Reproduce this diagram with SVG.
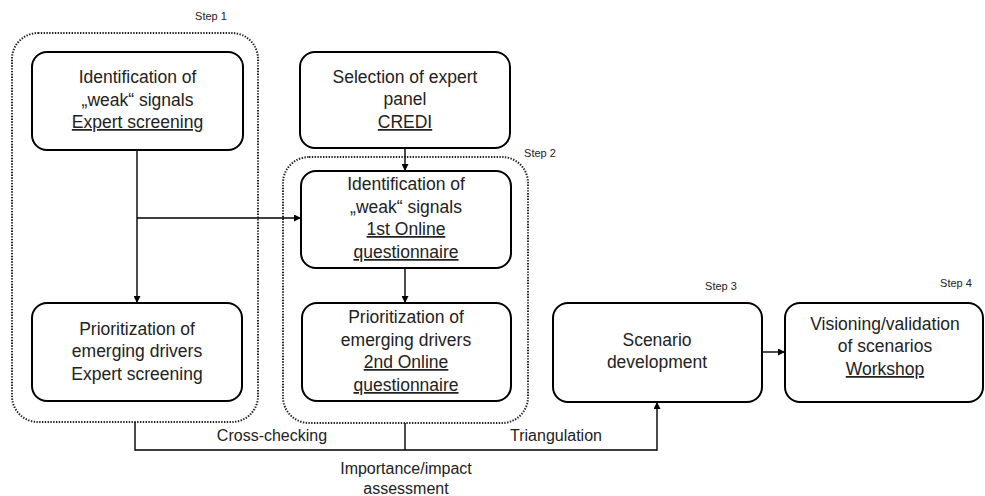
<svg xmlns="http://www.w3.org/2000/svg" width="985" height="496" viewBox="0 0 985 496">
<style>
.box{fill:#fff;stroke:#000;stroke-width:2}
.grp{fill:none;stroke:#222;stroke-width:2;stroke-dasharray:1.4 1.4}
.t{font-family:"Liberation Sans",Arial,sans-serif;font-size:17.5px;fill:#222;text-anchor:middle}
.s{font-family:"Liberation Sans",Arial,sans-serif;font-size:11px;fill:#222;text-anchor:middle}
.l{font-family:"Liberation Sans",Arial,sans-serif;font-size:16px;fill:#222;text-anchor:middle}
.u{text-decoration:underline}
.c{fill:none;stroke:#000;stroke-width:1.4}
</style>
<defs>
<marker id="ah" viewBox="0 0 10 10" refX="10" refY="5" markerWidth="7" markerHeight="7" markerUnits="userSpaceOnUse" orient="auto">
<path d="M0,0 L10,5 L0,10 z" fill="#000"/>
</marker>
</defs>
<rect fill="#fff" width="985" height="496"/>
<g id="groups">
<rect class="grp" x="12" y="33" width="246" height="389" rx="26"/>
<rect class="grp" x="283" y="157" width="245" height="266" rx="26"/>
</g>
<g id="steps">
<text class="s" x="211" y="20">Step 1</text>
<text class="s" x="540" y="157">Step 2</text>
<text class="s" x="721" y="290">Step 3</text>
<text class="s" x="956" y="287">Step 4</text>
</g>
<g id="connectors">
<path class="c" d="M137,150 V303" marker-end="url(#ah)"/>
<path class="c" d="M137,218 H301" marker-end="url(#ah)"/>
<path class="c" d="M405,148 V171" marker-end="url(#ah)"/>
<path class="c" d="M405,268 V303" marker-end="url(#ah)"/>
<path class="c" d="M762,352 H785" marker-end="url(#ah)"/>
<path class="c" d="M135,422 V450 H657 V402" marker-end="url(#ah)"/>
<path class="c" d="M405,423 V450"/>
<text class="l" x="272" y="441">Cross-checking</text>
<text class="l" x="556" y="441">Triangulation</text>
<text class="l" x="406" y="474">Importance/impact</text>
<text class="l" x="406" y="494">assessment</text>
</g>
<g id="n1">
<rect class="box" x="32" y="52" width="211" height="98" rx="15"/>
<text class="t" x="137.5" y="83">Identification of</text>
<text class="t" x="137.5" y="106">„weak“ signals</text>
<text class="t u" x="137.5" y="128">Expert screening</text>
</g>
<g id="n2">
<rect class="box" x="32" y="303" width="210" height="98" rx="15"/>
<text class="t" x="137" y="335">Prioritization of</text>
<text class="t" x="137" y="357">emerging drivers</text>
<text class="t" x="137" y="380">Expert screening</text>
</g>
<g id="n3">
<rect class="box" x="300" y="52" width="210" height="96" rx="15"/>
<text class="t" x="405" y="83">Selection of expert</text>
<text class="t" x="405" y="105">panel</text>
<text class="t u" x="405" y="128">CREDI</text>
</g>
<g id="n4">
<rect class="box" x="301" y="171" width="210" height="97" rx="15"/>
<text class="t" x="406" y="190">Identification of</text>
<text class="t" x="406" y="213">„weak“ signals</text>
<text class="t u" x="406" y="235">1st Online</text>
<text class="t u" x="406" y="258">questionnaire</text>
</g>
<g id="n5">
<rect class="box" x="302" y="303" width="209" height="98" rx="15"/>
<text class="t" x="406" y="323">Prioritization of</text>
<text class="t" x="406" y="346">emerging drivers</text>
<text class="t u" x="406" y="368">2nd Online</text>
<text class="t u" x="406" y="391">questionnaire</text>
</g>
<g id="n6">
<rect class="box" x="553" y="303" width="209" height="99" rx="15"/>
<text class="t" x="657" y="346">Scenario</text>
<text class="t" x="657" y="368">development</text>
</g>
<g id="n7">
<rect class="box" x="785" y="303" width="198" height="99" rx="15"/>
<text class="t" x="885" y="330">Visioning/validation</text>
<text class="t" x="885" y="352">of scenarios</text>
<text class="t u" x="885" y="375">Workshop</text>
</g>
</svg>
